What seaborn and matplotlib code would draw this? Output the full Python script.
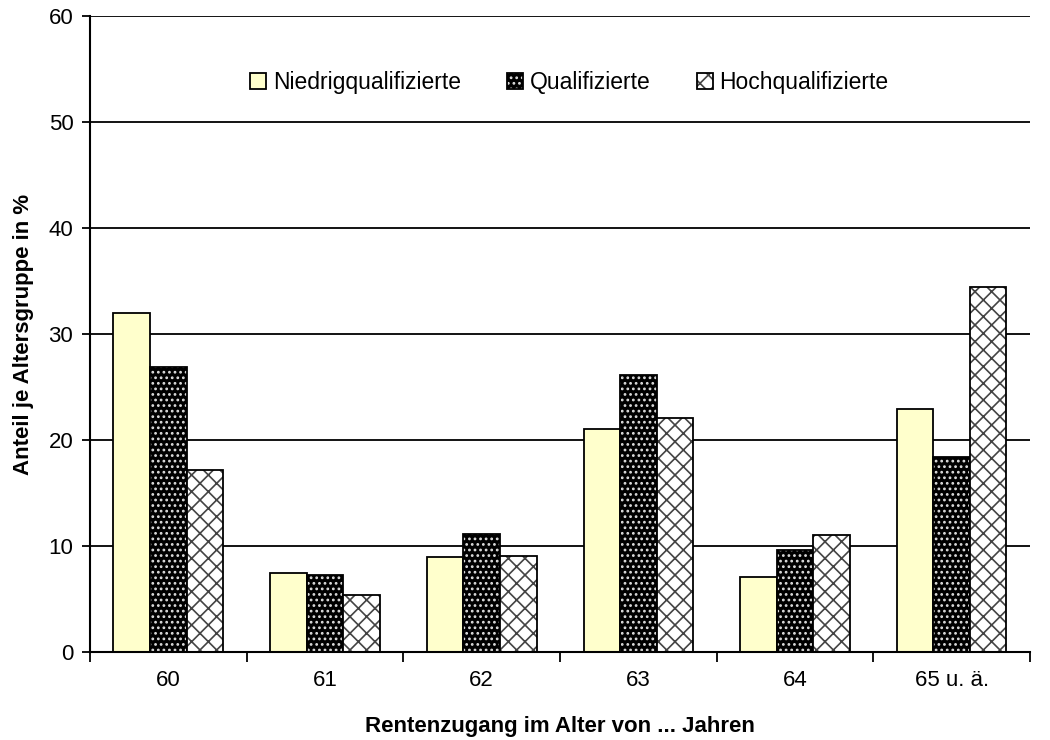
import numpy as np
import pandas as pd
import matplotlib
matplotlib.use("Agg")
import matplotlib.pyplot as plt
import matplotlib.colors as mcolors
from matplotlib.ticker import FixedLocator, MultipleLocator
import seaborn as sns

sns.set_style("white")
plt.rcParams["font.family"] = ["Liberation Sans", "DejaVu Sans"]
plt.rcParams["hatch.linewidth"] = 1.2

# data (percent per age group)
ages = ["60", "61", "62", "63", "64", "65 u. ä."]
groups = ["Niedrigqualifizierte", "Qualifizierte", "Hochqualifizierte"]
niedrig = [32.0, 7.5, 9.0, 21.0, 7.1, 22.9]
qualifiziert = [26.9, 7.3, 11.1, 26.1, 9.6, 18.4]
hoch = [17.2, 5.4, 9.1, 22.1, 11.0, 34.4]

df = pd.DataFrame({
    "Alter": ages * 3,
    "Gruppe": [g for g in groups for _ in ages],
    "Anteil": niedrig + qualifiziert + hoch,
})

# fill, hatch, hatch colour per group
styles = [
    ("#FFFFCC", "", "black"),
    ("black", "...", "#dddddd"),
    ("white", "xx", "#444444"),
]

fig, ax = plt.subplots(figsize=(10.5, 7.4), dpi=100)
fig.subplots_adjust(left=90 / 1050, right=1030 / 1050, bottom=1 - 652 / 740, top=1 - 16 / 740)

sns.barplot(data=df, x="Alter", y="Anteil", hue="Gruppe", order=ages, hue_order=groups,
            width=0.7, legend=False, ax=ax)

for container, (fc, hatch, hc) in zip(ax.containers, styles):
    for bar in container:
        bar.set_facecolor(fc)
        bar.set_edgecolor("black")
        bar.set_linewidth(1.3)
        bar.set_hatch(hatch)
        bar._hatch_color = mcolors.to_rgba(hc)

ax.set_ylim(0, 60)
ax.set_xlim(-0.5, len(ages) - 0.5)
ax.yaxis.set_major_locator(MultipleLocator(10))
ax.yaxis.grid(True, color="black", linewidth=1.3)
ax.set_axisbelow(True)

ax.xaxis.set_minor_locator(FixedLocator(np.arange(-0.5, len(ages), 1.0)))
ax.tick_params(axis="x", which="major", length=0, pad=13, labelsize=16, labelcolor="black")
ax.tick_params(axis="x", which="minor", bottom=True, length=7, width=1.3, color="black")
ax.tick_params(axis="y", left=True, length=6, width=1.3, color="black", pad=6, labelsize=16,
               labelcolor="black")

for side in ["top", "right"]:
    ax.spines[side].set_visible(False)
for side in ["left", "bottom"]:
    ax.spines[side].set_color("black")
    ax.spines[side].set_linewidth(1.5)

ax.set_xlabel("Rentenzugang im Alter von ... Jahren", fontsize=16, fontweight="bold", color="black")
ax.set_ylabel("Anteil je Altersgruppe in %", fontsize=16, fontweight="bold", color="black")
ax.xaxis.set_label_coords(0.5, -0.1)
ax.yaxis.set_label_coords(-0.06, 0.5)

handles = [c.patches[0] for c in ax.containers]
ax.legend(handles, groups, loc="center", bbox_to_anchor=(0.51, 0.896), ncol=3, frameon=False,
          fontsize=16.5, handlelength=0.7, handleheight=0.7, handletextpad=0.3, columnspacing=2.0,
          labelcolor="black")

fig.savefig("out.png", dpi=100)
plt.close(fig)
